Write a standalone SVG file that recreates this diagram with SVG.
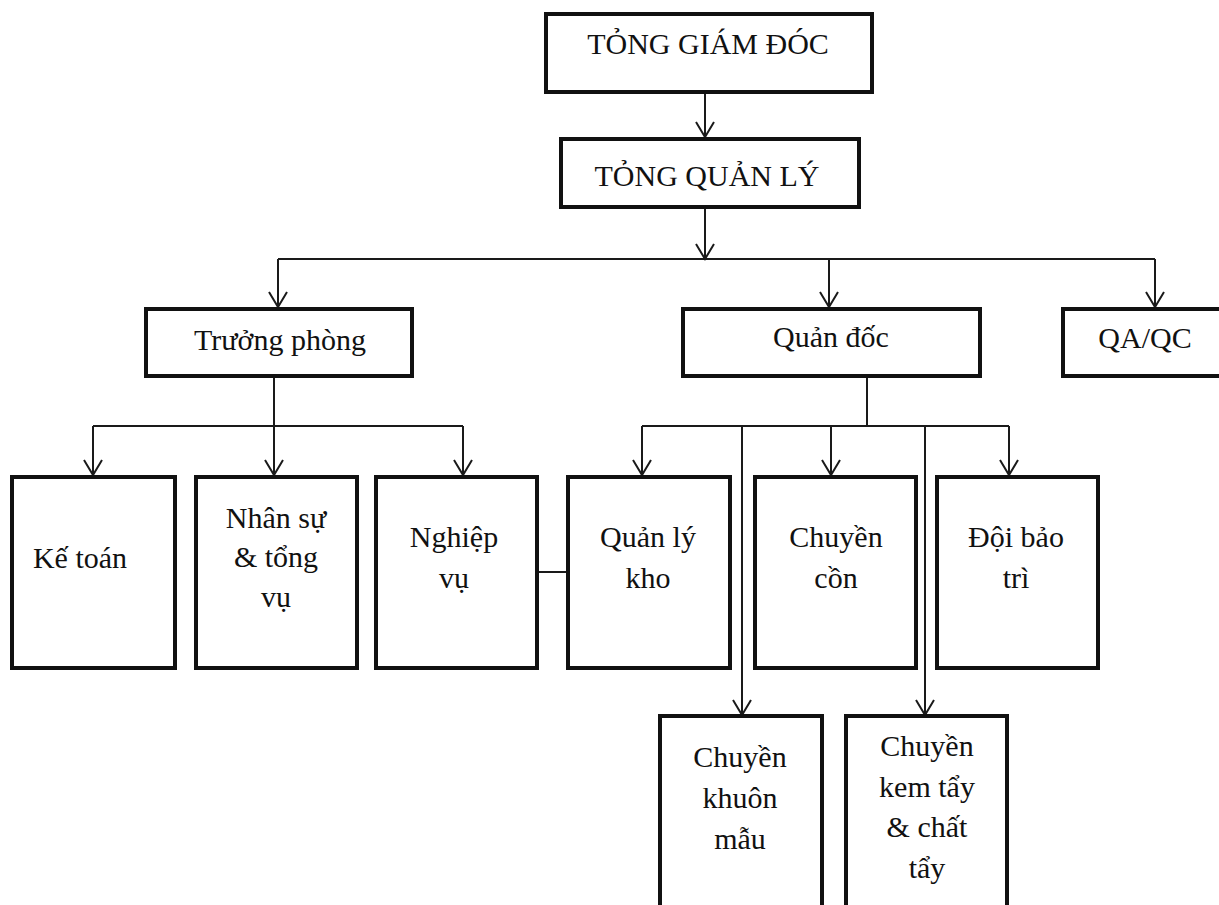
<svg xmlns="http://www.w3.org/2000/svg" width="1219" height="905" viewBox="0 0 1219 905">
<style>
.box{fill:#fff;stroke:#111;stroke-width:4}
.con{fill:none;stroke:#1a1a1a;stroke-width:2}
text{font-family:"Liberation Serif","Times New Roman",serif;fill:#111;text-anchor:middle;font-size:30px}
</style>
<defs>
<marker id="arr" markerUnits="userSpaceOnUse" markerWidth="20" markerHeight="22" refX="16" refY="11" orient="auto" viewBox="0 0 20 22">
<path d="M1,2 L16,11 L1,20" fill="none" stroke="#1a1a1a" stroke-width="2"/>
</marker>
</defs>
<rect width="1219" height="905" fill="#fff"/>
<g id="connectors" class="con">
<path d="M705,93 V137" marker-end="url(#arr)"/>
<path d="M705,207 V259" marker-end="url(#arr)"/>
<path d="M278,259 H1155"/>
<path d="M278,259 V307" marker-end="url(#arr)"/>
<path d="M829,259 V307" marker-end="url(#arr)"/>
<path d="M1155,259 V307" marker-end="url(#arr)"/>
<path d="M274,376 V475" marker-end="url(#arr)"/>
<path d="M93,426 H463"/>
<path d="M93,426 V475" marker-end="url(#arr)"/>
<path d="M463,426 V475" marker-end="url(#arr)"/>
<path d="M867,376 V426"/>
<path d="M642,426 H1009"/>
<path d="M642,426 V475" marker-end="url(#arr)"/>
<path d="M831,426 V475" marker-end="url(#arr)"/>
<path d="M1009,426 V475" marker-end="url(#arr)"/>
<path d="M742,426 V715" marker-end="url(#arr)"/>
<path d="M925,426 V715" marker-end="url(#arr)"/>
<path d="M537,572 H567"/>
</g>
<g id="tong-giam-doc"><rect class="box" x="546" y="14" width="326" height="78"/><text x="708" y="54" font-size="27">TỎNG GIÁM ĐÓC</text></g>
<g id="tong-quan-ly"><rect class="box" x="561" y="139" width="298" height="68"/><text x="707" y="186" font-size="29">TỎNG QUẢN LÝ</text></g>
<g id="truong-phong"><rect class="box" x="146" y="309" width="266" height="67"/><text x="280" y="350">Trưởng phòng</text></g>
<g id="quan-doc"><rect class="box" x="683" y="309" width="297" height="67"/><text x="831" y="347" font-size="28">Quản đốc</text></g>
<g id="qa-qc"><rect class="box" x="1063" y="309" width="162" height="67"/><text x="1145" y="348">QA/QC</text></g>
<g id="ke-toan"><rect class="box" x="12" y="477" width="163" height="191"/><text x="80" y="568">Kế toán</text></g>
<g id="nhan-su"><rect class="box" x="196" y="477" width="161" height="191"/><text x="276" y="528">Nhân sự</text><text x="276" y="567">&amp; tổng</text><text x="276" y="607">vụ</text></g>
<g id="nghiep-vu"><rect class="box" x="376" y="477" width="161" height="191"/><text x="454" y="547">Nghiệp</text><text x="454" y="588">vụ</text></g>
<g id="quan-ly-kho"><rect class="box" x="568" y="477" width="162" height="191"/><text x="648" y="547">Quản lý</text><text x="648" y="588">kho</text></g>
<g id="chuyen-con"><rect class="box" x="755" y="477" width="161" height="191"/><text x="836" y="547">Chuyền</text><text x="836" y="588">cồn</text></g>
<g id="doi-bao-tri"><rect class="box" x="937" y="477" width="161" height="191"/><text x="1016" y="547">Đội bảo</text><text x="1016" y="588">trì</text></g>
<g id="chuyen-khuon-mau"><rect class="box" x="660" y="716" width="162" height="200"/><text x="740" y="767">Chuyền</text><text x="740" y="808">khuôn</text><text x="740" y="849">mẫu</text></g>
<g id="chuyen-kem-tay"><rect class="box" x="846" y="716" width="161" height="201"/><text x="927" y="756">Chuyền</text><text x="927" y="797">kem tẩy</text><text x="927" y="837">&amp; chất</text><text x="927" y="878">tẩy</text></g>
</svg>
